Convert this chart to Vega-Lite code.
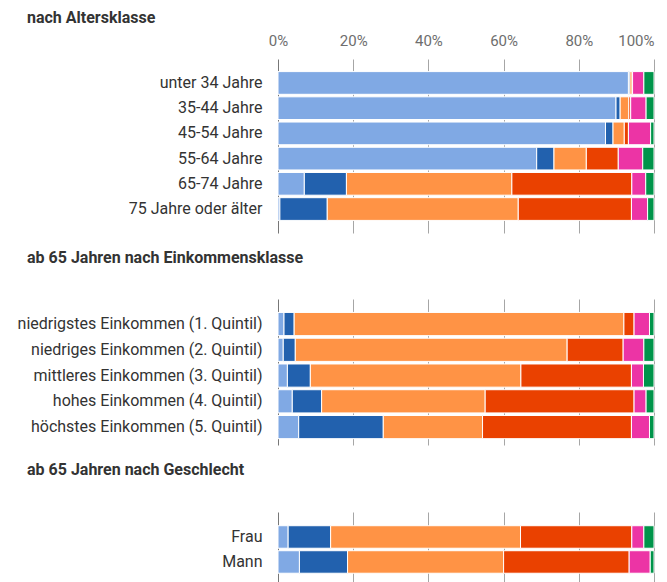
{
  "$schema": "https://vega.github.io/schema/vega-lite/v6.json",
  "padding": {"left": 5, "right": 5, "top": 10, "bottom": 0},
  "background": "white",
  "config": {
    "font": "Roboto",
    "view": {"stroke": null},
    "title": {"anchor": "start", "frame": "group", "fontSize": 16, "fontWeight": "bold", "color": "#333333", "dx": -251},
    "axisY": {"ticks": false, "domain": false, "labelPadding": 16, "labelFontSize": 16, "labelColor": "#333333", "labelLimit": 300, "title": null, "grid": false},
    "axisX": {"ticks": false, "domain": false, "grid": true, "gridColor": {"condition": {"test": "datum.value === 0", "value": "#777777"}, "value": "#a6a6a6"}, "gridWidth": 1, "labelFontSize": 15, "labelColor": "#6e6e6e", "labelPadding": 11, "title": null},
    "bar": {"stroke": "white", "strokeWidth": 1},
    "concat": {"spacing": 17}
  },
  "datasets": {
    "d": [
      {"panel": 1, "gruppe": "unter 34 Jahre", "kategorie": "Kategorie 1", "wert": 93.2},
      {"panel": 1, "gruppe": "unter 34 Jahre", "kategorie": "Kategorie 2", "wert": 0.4},
      {"panel": 1, "gruppe": "unter 34 Jahre", "kategorie": "Kategorie 3", "wert": 0.6},
      {"panel": 1, "gruppe": "unter 34 Jahre", "kategorie": "Kategorie 4", "wert": 0.1},
      {"panel": 1, "gruppe": "unter 34 Jahre", "kategorie": "Kategorie 5", "wert": 3.0},
      {"panel": 1, "gruppe": "unter 34 Jahre", "kategorie": "Kategorie 6", "wert": 2.7},
      {"panel": 1, "gruppe": "35-44 Jahre", "kategorie": "Kategorie 1", "wert": 89.9},
      {"panel": 1, "gruppe": "35-44 Jahre", "kategorie": "Kategorie 2", "wert": 1.1},
      {"panel": 1, "gruppe": "35-44 Jahre", "kategorie": "Kategorie 3", "wert": 2.3},
      {"panel": 1, "gruppe": "35-44 Jahre", "kategorie": "Kategorie 4", "wert": 0.5},
      {"panel": 1, "gruppe": "35-44 Jahre", "kategorie": "Kategorie 5", "wert": 4.1},
      {"panel": 1, "gruppe": "35-44 Jahre", "kategorie": "Kategorie 6", "wert": 2.1},
      {"panel": 1, "gruppe": "45-54 Jahre", "kategorie": "Kategorie 1", "wert": 87.1},
      {"panel": 1, "gruppe": "45-54 Jahre", "kategorie": "Kategorie 2", "wert": 2.0},
      {"panel": 1, "gruppe": "45-54 Jahre", "kategorie": "Kategorie 3", "wert": 3.0},
      {"panel": 1, "gruppe": "45-54 Jahre", "kategorie": "Kategorie 4", "wert": 1.1},
      {"panel": 1, "gruppe": "45-54 Jahre", "kategorie": "Kategorie 5", "wert": 5.9},
      {"panel": 1, "gruppe": "45-54 Jahre", "kategorie": "Kategorie 6", "wert": 0.9},
      {"panel": 1, "gruppe": "55-64 Jahre", "kategorie": "Kategorie 1", "wert": 68.8},
      {"panel": 1, "gruppe": "55-64 Jahre", "kategorie": "Kategorie 2", "wert": 4.6},
      {"panel": 1, "gruppe": "55-64 Jahre", "kategorie": "Kategorie 3", "wert": 8.6},
      {"panel": 1, "gruppe": "55-64 Jahre", "kategorie": "Kategorie 4", "wert": 8.5},
      {"panel": 1, "gruppe": "55-64 Jahre", "kategorie": "Kategorie 5", "wert": 6.5},
      {"panel": 1, "gruppe": "55-64 Jahre", "kategorie": "Kategorie 6", "wert": 3.0},
      {"panel": 1, "gruppe": "65-74 Jahre", "kategorie": "Kategorie 1", "wert": 7.0},
      {"panel": 1, "gruppe": "65-74 Jahre", "kategorie": "Kategorie 2", "wert": 11.2},
      {"panel": 1, "gruppe": "65-74 Jahre", "kategorie": "Kategorie 3", "wert": 44.0},
      {"panel": 1, "gruppe": "65-74 Jahre", "kategorie": "Kategorie 4", "wert": 31.9},
      {"panel": 1, "gruppe": "65-74 Jahre", "kategorie": "Kategorie 5", "wert": 3.7},
      {"panel": 1, "gruppe": "65-74 Jahre", "kategorie": "Kategorie 6", "wert": 2.2},
      {"panel": 1, "gruppe": "75 Jahre oder älter", "kategorie": "Kategorie 1", "wert": 0.5},
      {"panel": 1, "gruppe": "75 Jahre oder älter", "kategorie": "Kategorie 2", "wert": 12.6},
      {"panel": 1, "gruppe": "75 Jahre oder älter", "kategorie": "Kategorie 3", "wert": 50.8},
      {"panel": 1, "gruppe": "75 Jahre oder älter", "kategorie": "Kategorie 4", "wert": 30.1},
      {"panel": 1, "gruppe": "75 Jahre oder älter", "kategorie": "Kategorie 5", "wert": 4.3},
      {"panel": 1, "gruppe": "75 Jahre oder älter", "kategorie": "Kategorie 6", "wert": 1.7},
      {"panel": 2, "gruppe": "niedrigstes Einkommen (1. Quintil)", "kategorie": "Kategorie 1", "wert": 1.6},
      {"panel": 2, "gruppe": "niedrigstes Einkommen (1. Quintil)", "kategorie": "Kategorie 2", "wert": 2.7},
      {"panel": 2, "gruppe": "niedrigstes Einkommen (1. Quintil)", "kategorie": "Kategorie 3", "wert": 87.7},
      {"panel": 2, "gruppe": "niedrigstes Einkommen (1. Quintil)", "kategorie": "Kategorie 4", "wert": 2.7},
      {"panel": 2, "gruppe": "niedrigstes Einkommen (1. Quintil)", "kategorie": "Kategorie 5", "wert": 4.1},
      {"panel": 2, "gruppe": "niedrigstes Einkommen (1. Quintil)", "kategorie": "Kategorie 6", "wert": 1.2},
      {"panel": 2, "gruppe": "niedriges Einkommen (2. Quintil)", "kategorie": "Kategorie 1", "wert": 1.4},
      {"panel": 2, "gruppe": "niedriges Einkommen (2. Quintil)", "kategorie": "Kategorie 2", "wert": 3.2},
      {"panel": 2, "gruppe": "niedriges Einkommen (2. Quintil)", "kategorie": "Kategorie 3", "wert": 72.3},
      {"panel": 2, "gruppe": "niedriges Einkommen (2. Quintil)", "kategorie": "Kategorie 4", "wert": 14.9},
      {"panel": 2, "gruppe": "niedriges Einkommen (2. Quintil)", "kategorie": "Kategorie 5", "wert": 5.5},
      {"panel": 2, "gruppe": "niedriges Einkommen (2. Quintil)", "kategorie": "Kategorie 6", "wert": 2.7},
      {"panel": 2, "gruppe": "mittleres Einkommen (3. Quintil)", "kategorie": "Kategorie 1", "wert": 2.5},
      {"panel": 2, "gruppe": "mittleres Einkommen (3. Quintil)", "kategorie": "Kategorie 2", "wert": 6.1},
      {"panel": 2, "gruppe": "mittleres Einkommen (3. Quintil)", "kategorie": "Kategorie 3", "wert": 56.0},
      {"panel": 2, "gruppe": "mittleres Einkommen (3. Quintil)", "kategorie": "Kategorie 4", "wert": 29.4},
      {"panel": 2, "gruppe": "mittleres Einkommen (3. Quintil)", "kategorie": "Kategorie 5", "wert": 3.2},
      {"panel": 2, "gruppe": "mittleres Einkommen (3. Quintil)", "kategorie": "Kategorie 6", "wert": 2.8},
      {"panel": 2, "gruppe": "hohes Einkommen (4. Quintil)", "kategorie": "Kategorie 1", "wert": 3.8},
      {"panel": 2, "gruppe": "hohes Einkommen (4. Quintil)", "kategorie": "Kategorie 2", "wert": 7.8},
      {"panel": 2, "gruppe": "hohes Einkommen (4. Quintil)", "kategorie": "Kategorie 3", "wert": 43.5},
      {"panel": 2, "gruppe": "hohes Einkommen (4. Quintil)", "kategorie": "Kategorie 4", "wert": 39.6},
      {"panel": 2, "gruppe": "hohes Einkommen (4. Quintil)", "kategorie": "Kategorie 5", "wert": 3.2},
      {"panel": 2, "gruppe": "hohes Einkommen (4. Quintil)", "kategorie": "Kategorie 6", "wert": 2.1},
      {"panel": 2, "gruppe": "höchstes Einkommen (5. Quintil)", "kategorie": "Kategorie 1", "wert": 5.5},
      {"panel": 2, "gruppe": "höchstes Einkommen (5. Quintil)", "kategorie": "Kategorie 2", "wert": 22.5},
      {"panel": 2, "gruppe": "höchstes Einkommen (5. Quintil)", "kategorie": "Kategorie 3", "wert": 26.4},
      {"panel": 2, "gruppe": "höchstes Einkommen (5. Quintil)", "kategorie": "Kategorie 4", "wert": 39.6},
      {"panel": 2, "gruppe": "höchstes Einkommen (5. Quintil)", "kategorie": "Kategorie 5", "wert": 4.8},
      {"panel": 2, "gruppe": "höchstes Einkommen (5. Quintil)", "kategorie": "Kategorie 6", "wert": 1.2},
      {"panel": 3, "gruppe": "Frau", "kategorie": "Kategorie 1", "wert": 2.7},
      {"panel": 3, "gruppe": "Frau", "kategorie": "Kategorie 2", "wert": 11.3},
      {"panel": 3, "gruppe": "Frau", "kategorie": "Kategorie 3", "wert": 50.5},
      {"panel": 3, "gruppe": "Frau", "kategorie": "Kategorie 4", "wert": 29.6},
      {"panel": 3, "gruppe": "Frau", "kategorie": "Kategorie 5", "wert": 3.2},
      {"panel": 3, "gruppe": "Frau", "kategorie": "Kategorie 6", "wert": 2.7},
      {"panel": 3, "gruppe": "Mann", "kategorie": "Kategorie 1", "wert": 5.7},
      {"panel": 3, "gruppe": "Mann", "kategorie": "Kategorie 2", "wert": 12.8},
      {"panel": 3, "gruppe": "Mann", "kategorie": "Kategorie 3", "wert": 41.5},
      {"panel": 3, "gruppe": "Mann", "kategorie": "Kategorie 4", "wert": 33.4},
      {"panel": 3, "gruppe": "Mann", "kategorie": "Kategorie 5", "wert": 5.6},
      {"panel": 3, "gruppe": "Mann", "kategorie": "Kategorie 6", "wert": 1.0}
    ]
  },
  "vconcat": [
    {
      "title": {"text": "nach Altersklasse", "offset": 7},
      "width": 376,
      "height": 174,
      "data": {"name": "d"},
      "transform": [{"filter": "datum.panel == 1"}],
      "mark": "bar",
      "encoding": {
        "y": {"field": "gruppe", "type": "nominal", "sort": ["unter 34 Jahre", "35-44 Jahre", "45-54 Jahre", "55-64 Jahre", "65-74 Jahre", "75 Jahre oder älter"], "scale": {"paddingInner": 0.1, "paddingOuter": 0.5}, "axis": {"minExtent": 273}},
        "x": {"field": "wert", "type": "quantitative", "stack": "normalize", "scale": {"domain": [0, 1], "nice": false}, "axis": {"orient": "top", "format": ".0%", "values": [0, 0.2, 0.4, 0.6, 0.8, 1], "labelAlign": {"expr": "datum.value == 1 ? 'right' : 'center'"}, "labelDx": {"expr": "datum.value == 1 ? -4 : 0"}}},
        "color": {"field": "kategorie", "type": "nominal", "scale": {"domain": ["Kategorie 1", "Kategorie 2", "Kategorie 3", "Kategorie 4", "Kategorie 5", "Kategorie 6"], "range": ["#80a9e4", "#2261ae", "#ff9345", "#ea4100", "#ec34a5", "#00944a"]}, "legend": null},
        "order": {"field": "kategorie"}
      }
    },
    {
      "title": {"text": "ab 65 Jahren nach Einkommensklasse", "offset": 36, "dy": 3},
      "width": 376,
      "height": 146,
      "data": {"name": "d"},
      "transform": [{"filter": "datum.panel == 2"}],
      "mark": "bar",
      "encoding": {
        "y": {"field": "gruppe", "type": "nominal", "sort": ["niedrigstes Einkommen (1. Quintil)", "niedriges Einkommen (2. Quintil)", "mittleres Einkommen (3. Quintil)", "hohes Einkommen (4. Quintil)", "höchstes Einkommen (5. Quintil)"], "scale": {"paddingInner": 0.1, "paddingOuter": 0.384, "align": 0.68}, "axis": {"minExtent": 273}},
        "x": {"field": "wert", "type": "quantitative", "stack": "normalize", "scale": {"domain": [0, 1], "nice": false}, "axis": {"orient": "top", "labels": false, "values": [0, 0.2, 0.4, 0.6, 0.8, 1]}},
        "color": {"field": "kategorie", "type": "nominal", "scale": {"domain": ["Kategorie 1", "Kategorie 2", "Kategorie 3", "Kategorie 4", "Kategorie 5", "Kategorie 6"], "range": ["#80a9e4", "#2261ae", "#ff9345", "#ea4100", "#ec34a5", "#00944a"]}, "legend": null},
        "order": {"field": "kategorie"}
      }
    },
    {
      "title": {"text": "ab 65 Jahren nach Geschlecht", "offset": 27, "dy": -7},
      "width": 376,
      "height": 72,
      "data": {"name": "d"},
      "transform": [{"filter": "datum.panel == 3"}],
      "mark": "bar",
      "encoding": {
        "y": {"field": "gruppe", "type": "nominal", "sort": ["Frau", "Mann"], "scale": {"paddingInner": 0.1, "paddingOuter": 0.49, "align": 0.56}, "axis": {"minExtent": 273}},
        "x": {"field": "wert", "type": "quantitative", "stack": "normalize", "scale": {"domain": [0, 1], "nice": false}, "axis": {"orient": "top", "labels": false, "values": [0, 0.2, 0.4, 0.6, 0.8, 1]}},
        "color": {"field": "kategorie", "type": "nominal", "scale": {"domain": ["Kategorie 1", "Kategorie 2", "Kategorie 3", "Kategorie 4", "Kategorie 5", "Kategorie 6"], "range": ["#80a9e4", "#2261ae", "#ff9345", "#ea4100", "#ec34a5", "#00944a"]}, "legend": null},
        "order": {"field": "kategorie"}
      }
    }
  ]
}
